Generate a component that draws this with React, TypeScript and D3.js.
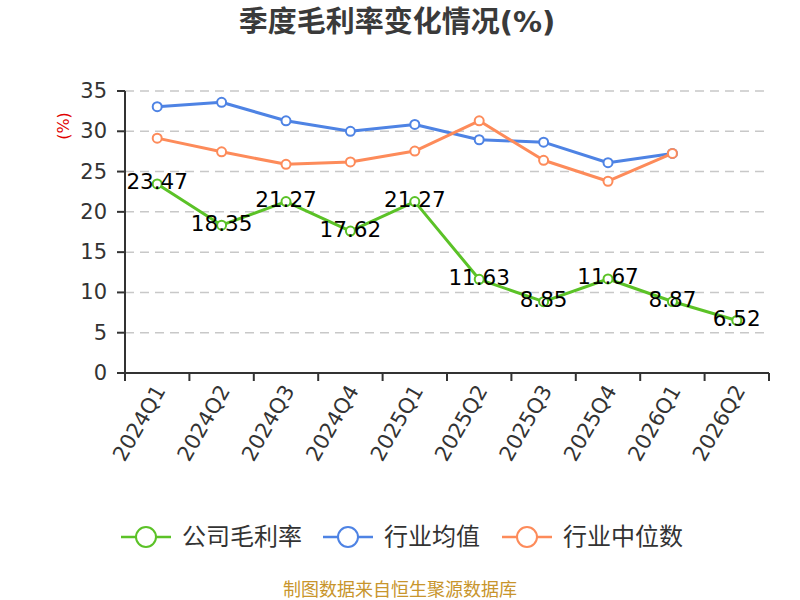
import React, { useEffect, useRef } from "react";
import * as d3 from "d3";

const categories = ["2024Q1", "2024Q2", "2024Q3", "2024Q4", "2025Q1", "2025Q2", "2025Q3", "2025Q4", "2026Q1", "2026Q2"];
const companyMargin = [23.47, 18.35, 21.27, 17.62, 21.27, 11.63, 8.85, 11.67, 8.87, 6.52];
const industryAvg = [33.05, 33.6, 31.3, 30.0, 30.85, 28.95, 28.65, 26.1, 27.25];
const industryMedian = [29.15, 27.45, 25.9, 26.2, 27.55, 31.3, 26.4, 23.8, 27.25];
const yTicks = [0, 5, 10, 15, 20, 25, 30, 35];
const seriesNames = ["公司毛利率", "行业均值", "行业中位数"];

const FONT = "'DejaVu Sans', 'Noto Sans CJK SC', sans-serif";

// line chart: company gross margin vs industry mean / median
const App = () => {
  const svgRef = useRef<SVGSVGElement | null>(null);

  useEffect(() => {
    const width = 800;
    const height = 600;
    const left = 125;
    const right = 769;
    const top = 91;
    const bottom = 373;

    const svg = d3.select(svgRef.current);
    svg.selectAll("*").remove();
    svg.attr("width", width).attr("height", height);

    const x = d3.scaleBand<string>().domain(categories).range([left, right]);
    const y = d3.scaleLinear().domain([0, 35]).range([bottom, top]);
    const cx = (i: number) => x(categories[i])! + x.bandwidth() / 2;

    const colors = ["#5bc227", "#4e83e4", "#fd8b5a"];

    // title
    svg
      .append("text")
      .attr("x", 397)
      .attr("y", 22)
      .attr("text-anchor", "middle")
      .attr("dominant-baseline", "central")
      .attr("font-family", FONT)
      .attr("font-weight", "bold")
      .attr("font-size", 29)
      .attr("fill", "#3a3a3a")
      .text("季度毛利率变化情况(%)");

    // y axis unit
    svg
      .append("text")
      .attr("transform", "translate(63,126) rotate(-90)")
      .attr("text-anchor", "middle")
      .attr("dominant-baseline", "central")
      .attr("font-family", FONT)
      .attr("font-size", 16)
      .attr("fill", "#e00000")
      .text("(%)");

    // grid
    svg
      .append("g")
      .selectAll("line")
      .data(yTicks.filter((t) => t > 0))
      .join("line")
      .attr("x1", left)
      .attr("x2", right)
      .attr("y1", (d) => y(d))
      .attr("y2", (d) => y(d))
      .attr("stroke", "#c8c8c8")
      .attr("stroke-width", 1.5)
      .attr("stroke-dasharray", "9,6");

    // y axis
    const yAxis = svg.append("g");
    yAxis
      .append("line")
      .attr("x1", left)
      .attr("x2", left)
      .attr("y1", top)
      .attr("y2", bottom)
      .attr("stroke", "#333")
      .attr("stroke-width", 2);
    yAxis
      .selectAll("line.tick")
      .data(yTicks)
      .join("line")
      .attr("class", "tick")
      .attr("x1", left - 8)
      .attr("x2", left)
      .attr("y1", (d) => y(d))
      .attr("y2", (d) => y(d))
      .attr("stroke", "#333")
      .attr("stroke-width", 2);
    yAxis
      .selectAll("text")
      .data(yTicks)
      .join("text")
      .attr("x", left - 18)
      .attr("y", (d) => y(d))
      .attr("text-anchor", "end")
      .attr("dominant-baseline", "central")
      .attr("font-family", FONT)
      .attr("font-size", 21)
      .attr("fill", "#333")
      .text((d) => d);

    // x axis
    const xAxis = svg.append("g");
    xAxis
      .append("line")
      .attr("x1", left)
      .attr("x2", right)
      .attr("y1", bottom)
      .attr("y2", bottom)
      .attr("stroke", "#333")
      .attr("stroke-width", 2);
    const boundaries = categories.map((c) => x(c)!).concat([right]);
    xAxis
      .selectAll("line.tick")
      .data(boundaries)
      .join("line")
      .attr("class", "tick")
      .attr("x1", (d) => d)
      .attr("x2", (d) => d)
      .attr("y1", bottom)
      .attr("y2", bottom + 8)
      .attr("stroke", "#333")
      .attr("stroke-width", 2);
    xAxis
      .selectAll("text")
      .data(categories)
      .join("text")
      .attr("transform", (d, i) => `translate(${cx(i) + 3},${bottom + 14}) rotate(-60)`)
      .attr("text-anchor", "end")
      .attr("dominant-baseline", "central")
      .attr("font-family", FONT)
      .attr("font-size", 21)
      .attr("fill", "#333")
      .text((d) => d);

    // series lines
    const allSeries = [companyMargin, industryAvg, industryMedian];
    const line = d3
      .line<number>()
      .x((d, i) => cx(i))
      .y((d) => y(d));

    // draw industry lines first, company on top
    [1, 2, 0].forEach((s) => {
      const vals = allSeries[s];
      const g = svg.append("g");
      g.append("path")
        .datum(vals)
        .attr("d", line)
        .attr("fill", "none")
        .attr("stroke", colors[s])
        .attr("stroke-width", 3)
        .attr("stroke-linejoin", "round");
      g.selectAll("circle")
        .data(vals)
        .join("circle")
        .attr("cx", (d, i) => cx(i))
        .attr("cy", (d) => y(d))
        .attr("r", 4.5)
        .attr("fill", "#fff")
        .attr("stroke", colors[s])
        .attr("stroke-width", 2);
    });

    // company labels
    svg
      .append("g")
      .selectAll("text")
      .data(companyMargin)
      .join("text")
      .attr("x", (d, i) => cx(i))
      .attr("y", (d) => y(d) - 2)
      .attr("text-anchor", "middle")
      .attr("dominant-baseline", "central")
      .attr("font-family", FONT)
      .attr("font-size", 21.5)
      .attr("fill", "#000")
      .text((d) => d.toFixed(2));

    // legend
    const legendX = [121, 323, 502];
    const legendY = 537;
    const legend = svg
      .append("g")
      .selectAll("g")
      .data(seriesNames)
      .join("g")
      .attr("transform", (d, i) => `translate(${legendX[i]},${legendY})`);
    legend
      .append("line")
      .attr("x1", 0)
      .attr("x2", 50)
      .attr("stroke", (d, i) => colors[i])
      .attr("stroke-width", 2.5);
    legend
      .append("circle")
      .attr("cx", 25)
      .attr("r", 10)
      .attr("fill", "#fff")
      .attr("stroke", (d, i) => colors[i])
      .attr("stroke-width", 2);
    legend
      .append("text")
      .attr("x", 61)
      .attr("dominant-baseline", "central")
      .attr("font-family", FONT)
      .attr("font-size", 24)
      .attr("fill", "#333")
      .text((d) => d);

    // source
    svg
      .append("text")
      .attr("x", 400)
      .attr("y", 589)
      .attr("text-anchor", "middle")
      .attr("dominant-baseline", "central")
      .attr("font-family", FONT)
      .attr("font-size", 18)
      .attr("fill", "#c8952c")
      .text("制图数据来自恒生聚源数据库");
  }, []);

  return <svg ref={svgRef} style={{ position: "absolute", left: 0, top: 0 }}></svg>;
};

export default App;
